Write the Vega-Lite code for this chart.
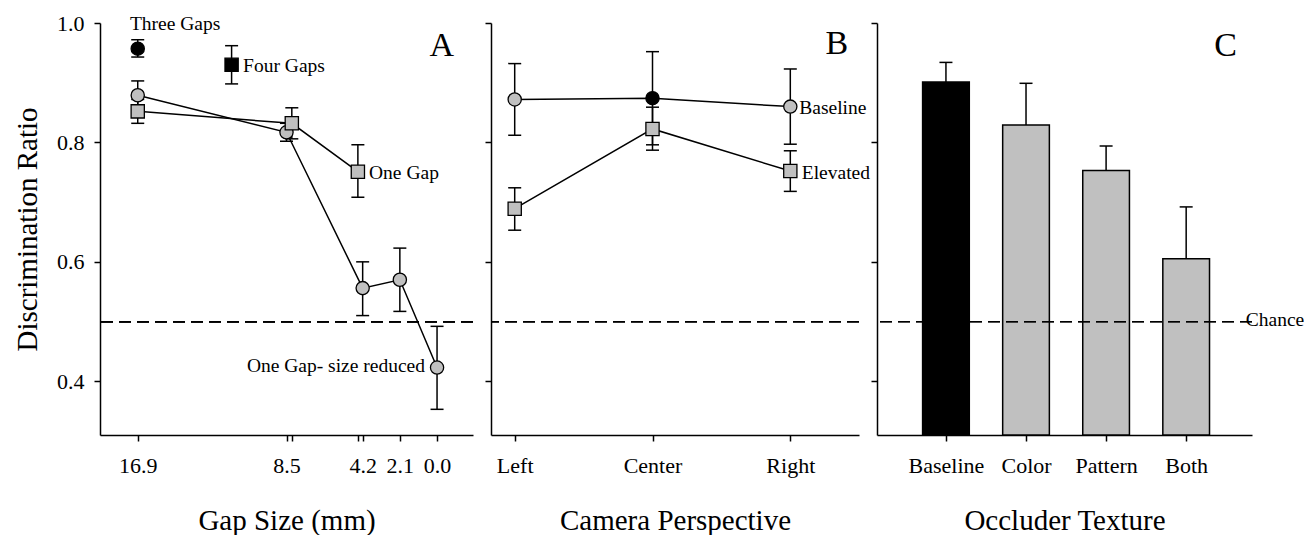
{
  "$schema": "https://vega.github.io/schema/vega-lite/v6.json",
  "background": "white",
  "padding": {"left": 13, "top": 12, "right": 0, "bottom": 0},
  "spacing": 18,
  "bounds": "flush",
  "config": {
    "font": "Liberation Serif",
    "view": {"stroke": null},
    "axis": {
      "grid": false,
      "domainColor": "black",
      "domainWidth": 1.5,
      "tickColor": "black",
      "tickWidth": 1.5,
      "tickSize": 6,
      "labelFont": "Liberation Serif",
      "labelFontSize": 22,
      "labelColor": "black",
      "titleFont": "Liberation Serif",
      "titleFontSize": 29,
      "titleFontWeight": "normal",
      "titleColor": "black"
    },
    "axisX": {"labelPadding": 14, "titlePadding": 30, "labelFlush": false, "labelOverlap": false},
    "axisY": {"labelPadding": 10, "titlePadding": 14},
    "text": {"font": "Liberation Serif", "fontSize": 19.5, "color": "black"}
  },
  "hconcat": [
    {
      "width": 373,
      "height": 412,
      "data": {"values": [
        {"condition": "One Gap- size reduced", "gap": 16.9, "ratio": 0.879, "lo": 0.855, "hi": 0.903, "standard": "no"},
        {"condition": "One Gap- size reduced", "gap": 8.5, "ratio": 0.817, "lo": 0.802, "hi": 0.832, "standard": "no"},
        {"condition": "One Gap- size reduced", "gap": 4.2, "ratio": 0.556, "lo": 0.510, "hi": 0.600, "standard": "no"},
        {"condition": "One Gap- size reduced", "gap": 2.1, "ratio": 0.570, "lo": 0.517, "hi": 0.623, "standard": "no"},
        {"condition": "One Gap- size reduced", "gap": 0.0, "ratio": 0.423, "lo": 0.353, "hi": 0.492, "standard": "no"},
        {"condition": "One Gap", "gap": 16.9, "ratio": 0.852, "lo": 0.832, "hi": 0.872, "standard": "no"},
        {"condition": "One Gap", "gap": 8.2, "ratio": 0.832, "lo": 0.806, "hi": 0.858, "standard": "no"},
        {"condition": "One Gap", "gap": 4.47, "ratio": 0.751, "lo": 0.708, "hi": 0.796, "standard": "no"},
        {"condition": "Three Gaps", "gap": 16.9, "ratio": 0.957, "lo": 0.943, "hi": 0.972, "standard": "yes"},
        {"condition": "Four Gaps", "gap": 11.6, "ratio": 0.930, "lo": 0.898, "hi": 0.962, "standard": "yes"}
      ]},
      "layer": [
        {
          "mark": {"type": "rule", "strokeDash": [12, 6], "strokeWidth": 1.3, "color": "black"},
          "encoding": {"y": {"datum": 0.5, "type": "quantitative"}}
        },
        {
          "transform": [{"filter": "datum.condition == 'One Gap- size reduced' || datum.condition == 'One Gap'"}],
          "mark": {"type": "line", "color": "black", "strokeWidth": 1.5},
          "encoding": {
            "x": {"field": "gap", "type": "quantitative",
              "scale": {"domain": [-2.03, 19.03], "reverse": true, "nice": false, "zero": false},
              "axis": {"title": "Gap Size (mm)", "values": [16.9, 8.5, 8.2, 4.47, 4.2, 2.1, 0],
                "labelExpr": "datum.value == 8.2 || datum.value == 4.47 ? '' : format(datum.value, '.1f')"}},
            "y": {"field": "ratio", "type": "quantitative",
              "scale": {"domain": [0.31, 1.0], "nice": false, "zero": false},
              "axis": {"title": "Discrimination Ratio", "values": [0.4, 0.6, 0.8, 1.0], "format": ".1f"}},
            "detail": {"field": "condition"}
          }
        },
        {
          "mark": {"type": "rule", "color": "black", "strokeWidth": 1.5},
          "encoding": {
            "x": {"field": "gap", "type": "quantitative"},
            "y": {"field": "lo", "type": "quantitative"},
            "y2": {"field": "hi"}
          }
        },
        {
          "mark": {"type": "tick", "orient": "horizontal", "size": 13, "thickness": 1.5, "color": "black", "opacity": 1},
          "encoding": {
            "x": {"field": "gap", "type": "quantitative"},
            "y": {"field": "lo", "type": "quantitative"}
          }
        },
        {
          "mark": {"type": "tick", "orient": "horizontal", "size": 13, "thickness": 1.5, "color": "black", "opacity": 1},
          "encoding": {
            "x": {"field": "gap", "type": "quantitative"},
            "y": {"field": "hi", "type": "quantitative"}
          }
        },
        {
          "mark": {"type": "point", "filled": true, "size": 175, "stroke": "black", "strokeWidth": 1.3, "opacity": 1},
          "encoding": {
            "x": {"field": "gap", "type": "quantitative"},
            "y": {"field": "ratio", "type": "quantitative"},
            "shape": {"field": "condition", "type": "nominal",
              "scale": {"domain": ["One Gap- size reduced", "One Gap", "Three Gaps", "Four Gaps"], "range": ["circle", "square", "circle", "square"]},
              "legend": null},
            "fill": {"field": "standard", "type": "nominal",
              "scale": {"domain": ["yes", "no"], "range": ["black", "#c0c0c0"]}, "legend": null}
          }
        },
        {
          "data": {"values": [{"label": "Three Gaps", "gap": 14.79, "ratio": 0.989}]},
          "mark": {"type": "text", "align": "center", "baseline": "alphabetic"},
          "encoding": {
            "x": {"field": "gap", "type": "quantitative"},
            "y": {"field": "ratio", "type": "quantitative"},
            "text": {"field": "label"}
          }
        },
        {
          "data": {"values": [
            {"label": "Four Gaps", "gap": 10.95, "ratio": 0.9185},
            {"label": "One Gap", "gap": 3.84, "ratio": 0.739}
          ]},
          "mark": {"type": "text", "align": "left", "baseline": "alphabetic"},
          "encoding": {
            "x": {"field": "gap", "type": "quantitative"},
            "y": {"field": "ratio", "type": "quantitative"},
            "text": {"field": "label"}
          }
        },
        {
          "data": {"values": [{"label": "One Gap- size reduced", "gap": 0.68, "ratio": 0.4154}]},
          "mark": {"type": "text", "align": "right", "baseline": "alphabetic"},
          "encoding": {
            "x": {"field": "gap", "type": "quantitative"},
            "y": {"field": "ratio", "type": "quantitative"},
            "text": {"field": "label"}
          }
        },
        {
          "data": {"values": [{"label": "A", "gap": -0.27, "ratio": 0.9448}]},
          "mark": {"type": "text", "align": "center", "baseline": "alphabetic", "fontSize": 34},
          "encoding": {
            "x": {"field": "gap", "type": "quantitative"},
            "y": {"field": "ratio", "type": "quantitative"},
            "text": {"field": "label"}
          }
        }
      ]
    },
    {
      "width": 368,
      "height": 412,
      "data": {"values": [
        {"series": "Baseline", "perspective": "Left", "view": 1, "ratio": 0.872, "lo": 0.812, "hi": 0.932, "standard": "no"},
        {"series": "Baseline", "perspective": "Center", "view": 2, "ratio": 0.874, "lo": 0.796, "hi": 0.952, "standard": "yes"},
        {"series": "Baseline", "perspective": "Right", "view": 3, "ratio": 0.860, "lo": 0.797, "hi": 0.923, "standard": "no"},
        {"series": "Elevated", "perspective": "Left", "view": 1, "ratio": 0.689, "lo": 0.653, "hi": 0.724, "standard": "no"},
        {"series": "Elevated", "perspective": "Center", "view": 2, "ratio": 0.8226, "lo": 0.787, "hi": 0.859, "standard": "no"},
        {"series": "Elevated", "perspective": "Right", "view": 3, "ratio": 0.752, "lo": 0.718, "hi": 0.786, "standard": "no"}
      ]},
      "layer": [
        {
          "mark": {"type": "rule", "strokeDash": [12, 6], "strokeWidth": 1.3, "color": "black"},
          "encoding": {"y": {"datum": 0.5, "type": "quantitative"}}
        },
        {
          "mark": {"type": "line", "color": "black", "strokeWidth": 1.5},
          "encoding": {
            "x": {"field": "view", "type": "quantitative",
              "scale": {"domain": [0.828, 3.4985], "nice": false, "zero": false},
              "axis": {"title": "Camera Perspective", "values": [1, 2, 3],
                "labelExpr": "datum.value == 1 ? 'Left' : datum.value == 2 ? 'Center' : 'Right'"}},
            "y": {"field": "ratio", "type": "quantitative",
              "scale": {"domain": [0.31, 1.0], "nice": false, "zero": false},
              "axis": {"title": null, "labels": false, "values": [0.4, 0.6, 0.8, 1.0]}},
            "detail": {"field": "series"}
          }
        },
        {
          "mark": {"type": "rule", "color": "black", "strokeWidth": 1.5},
          "encoding": {
            "x": {"field": "view", "type": "quantitative"},
            "y": {"field": "lo", "type": "quantitative"},
            "y2": {"field": "hi"}
          }
        },
        {
          "mark": {"type": "tick", "orient": "horizontal", "size": 13, "thickness": 1.5, "color": "black", "opacity": 1},
          "encoding": {
            "x": {"field": "view", "type": "quantitative"},
            "y": {"field": "lo", "type": "quantitative"}
          }
        },
        {
          "mark": {"type": "tick", "orient": "horizontal", "size": 13, "thickness": 1.5, "color": "black", "opacity": 1},
          "encoding": {
            "x": {"field": "view", "type": "quantitative"},
            "y": {"field": "hi", "type": "quantitative"}
          }
        },
        {
          "mark": {"type": "point", "filled": true, "size": 175, "stroke": "black", "strokeWidth": 1.3, "opacity": 1},
          "encoding": {
            "x": {"field": "view", "type": "quantitative"},
            "y": {"field": "ratio", "type": "quantitative"},
            "shape": {"field": "series", "type": "nominal",
              "scale": {"domain": ["Baseline", "Elevated"], "range": ["circle", "square"]}, "legend": null},
            "fill": {"field": "standard", "type": "nominal",
              "scale": {"domain": ["yes", "no"], "range": ["black", "#c0c0c0"]}, "legend": null}
          }
        },
        {
          "data": {"values": [
            {"label": "Baseline", "view": 3.065, "ratio": 0.8477},
            {"label": "Elevated", "view": 3.083, "ratio": 0.739}
          ]},
          "mark": {"type": "text", "align": "left", "baseline": "alphabetic"},
          "encoding": {
            "x": {"field": "view", "type": "quantitative"},
            "y": {"field": "ratio", "type": "quantitative"},
            "text": {"field": "label"}
          }
        },
        {
          "data": {"values": [{"label": "B", "view": 3.337, "ratio": 0.948}]},
          "mark": {"type": "text", "align": "center", "baseline": "alphabetic", "fontSize": 34},
          "encoding": {
            "x": {"field": "view", "type": "quantitative"},
            "y": {"field": "ratio", "type": "quantitative"},
            "text": {"field": "label"}
          }
        }
      ]
    },
    {
      "width": 375,
      "height": 412,
      "data": {"values": [
        {"texture": "Baseline", "idx": 1, "ratio": 0.901, "hi": 0.934, "standard": "yes"},
        {"texture": "Color", "idx": 2, "ratio": 0.829, "hi": 0.899, "standard": "no"},
        {"texture": "Pattern", "idx": 3, "ratio": 0.753, "hi": 0.794, "standard": "no"},
        {"texture": "Both", "idx": 4, "ratio": 0.605, "hi": 0.692, "standard": "no"}
      ]},
      "layer": [
        {
          "mark": {"type": "rule", "color": "black", "strokeWidth": 1.5},
          "encoding": {
            "x": {"field": "idx", "type": "quantitative",
              "scale": {"domain": [0.2014, 4.7597], "nice": false, "zero": false},
              "axis": {"title": "Occluder Texture", "values": [1, 2, 3, 4],
                "labelExpr": "['', 'Baseline', 'Color', 'Pattern', 'Both'][datum.value]"}},
            "y": {"field": "ratio", "type": "quantitative",
              "scale": {"domain": [0.31, 1.0], "nice": false, "zero": false},
              "axis": {"title": null, "labels": false, "values": [0.4, 0.6, 0.8, 1.0]}},
            "y2": {"field": "hi"}
          }
        },
        {
          "mark": {"type": "tick", "orient": "horizontal", "size": 13, "thickness": 1.5, "color": "black", "opacity": 1},
          "encoding": {
            "x": {"field": "idx", "type": "quantitative"},
            "y": {"field": "hi", "type": "quantitative"}
          }
        },
        {
          "mark": {"type": "bar", "width": 46.7, "stroke": "black", "strokeWidth": 1.5},
          "encoding": {
            "x": {"field": "idx", "type": "quantitative"},
            "y": {"field": "ratio", "type": "quantitative"},
            "y2": {"datum": 0.31},
            "fill": {"field": "standard", "type": "nominal",
              "scale": {"domain": ["yes", "no"], "range": ["black", "#c0c0c0"]}, "legend": null}
          }
        },
        {
          "mark": {"type": "rule", "strokeDash": [12, 6], "strokeWidth": 1.3, "color": "black"},
          "encoding": {"y": {"datum": 0.5, "type": "quantitative"}}
        },
        {
          "data": {"values": [{"label": "Chance", "idx": 4.744, "ratio": 0.4924}]},
          "mark": {"type": "text", "align": "left", "baseline": "alphabetic"},
          "encoding": {
            "x": {"field": "idx", "type": "quantitative"},
            "y": {"field": "ratio", "type": "quantitative"},
            "text": {"field": "label"}
          }
        },
        {
          "data": {"values": [{"label": "C", "idx": 4.492, "ratio": 0.9448}]},
          "mark": {"type": "text", "align": "center", "baseline": "alphabetic", "fontSize": 34},
          "encoding": {
            "x": {"field": "idx", "type": "quantitative"},
            "y": {"field": "ratio", "type": "quantitative"},
            "text": {"field": "label"}
          }
        }
      ]
    }
  ]
}
